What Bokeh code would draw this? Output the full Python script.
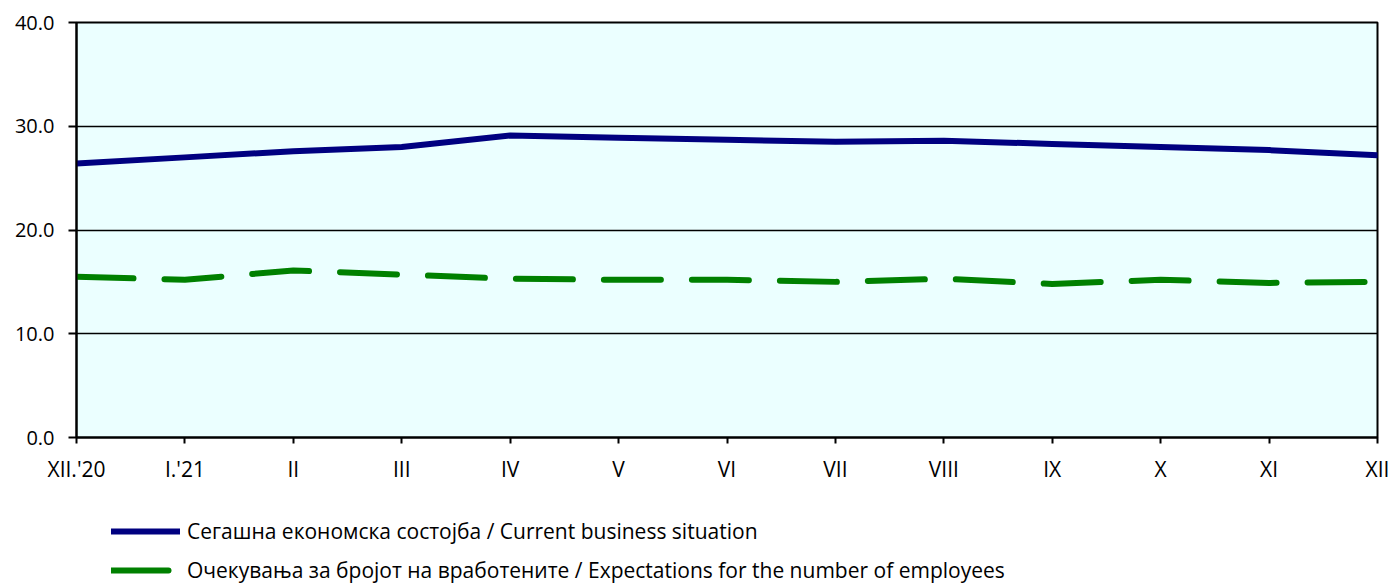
from bokeh.plotting import figure
from bokeh.layouts import column
from bokeh.models import ColumnDataSource, FixedTicker, Legend, LegendItem, NumeralTickFormatter, Range1d
from bokeh.embed import file_html
from bokeh.resources import INLINE

categories = ["XII.'20", "I.'21", "II", "III", "IV", "V", "VI", "VII", "VIII", "IX", "X", "XI", "XII"]
current_situation = [26.4, 27.0, 27.6, 28.0, 29.1, 28.9, 28.7, 28.5, 28.6, 28.3, 28.0, 27.7, 27.2]
employment_expectations = [15.5, 15.2, 16.1, 15.7, 15.3, 15.2, 15.2, 15.0, 15.3, 14.8, 15.2, 14.9, 15.0]
series_names = ["Сегашна економска состојба / Current business situation",
                "Очекувања за бројот на вработените / Expectations for the number of employees"]
y_ticks = [0, 10, 20, 30, 40]

FONT = "Open Sans"
BLUE = "#000080"
GREEN = "#008000"
x_idx = list(range(len(categories)))
src = ColumnDataSource(dict(x=x_idx, cur=current_situation, exp=employment_expectations))

cur_style = dict(line_color=BLUE, line_width=6, line_join="round", line_cap="round")
exp_style = dict(line_color=GREEN, line_width=6, line_dash="57 31", line_cap="round", line_join="round")

# ---- main chart ----
p = figure(width=1392, height=490, output_backend="svg", toolbar_location=None,
           x_range=Range1d(0, len(categories) - 1), y_range=Range1d(0, 40),
           min_border_left=76, min_border_top=22, min_border_right=15, min_border_bottom=53)
p.background_fill_color = "#EBFFFF"
p.border_fill_color = "white"
p.outline_line_color = "black"
p.outline_line_width = 2

p.line("x", "cur", source=src, **cur_style)
p.line("x", "exp", source=src, **exp_style)

p.xaxis.ticker = FixedTicker(ticks=x_idx)
p.xaxis.major_label_overrides = {i: c for i, c in enumerate(categories)}
p.yaxis.ticker = FixedTicker(ticks=y_ticks)
p.yaxis.formatter = NumeralTickFormatter(format="0.0")

for ax in (p.xaxis[0], p.yaxis[0]):
    ax.axis_line_color = "black"
    ax.axis_line_width = 2
    ax.major_tick_line_color = "black"
    ax.major_tick_line_width = 2
    ax.major_tick_in = 0
    ax.minor_tick_line_color = None
    ax.major_label_text_font = FONT
    ax.major_label_text_font_size = "20px"
    ax.major_label_text_color = "black"
p.xaxis.major_label_text_font_size = "21px"
p.xaxis.major_tick_out = 6
p.yaxis.major_tick_out = 8
p.xaxis.major_label_standoff = 11
p.yaxis.major_label_standoff = 14

p.xgrid.grid_line_color = None
p.ygrid.grid_line_color = "black"
p.ygrid.grid_line_width = 1.5

# ---- legend strip below the chart (series drawn out of view, only legend visible) ----
lg = figure(width=1392, height=94, output_backend="svg", toolbar_location=None,
            x_range=Range1d(100, 101), y_range=Range1d(100, 101),
            x_axis_type=None, y_axis_type=None,
            min_border_left=0, min_border_right=0, min_border_top=0, min_border_bottom=0)
lg.outline_line_color = None
lg.background_fill_color = "white"
lg.border_fill_color = "white"
lg.xgrid.grid_line_color = None
lg.ygrid.grid_line_color = None
l1 = lg.line("x", "cur", source=src, **cur_style)
l2 = lg.line("x", "exp", source=src, **exp_style)

legend = Legend(items=[LegendItem(label=series_names[0], renderers=[l1]),
                       LegendItem(label=series_names[1], renderers=[l2])],
                location=(35, 0), orientation="vertical")
legend.background_fill_alpha = 0
legend.border_line_color = None
legend.padding = 0
legend.margin = 0
legend.spacing = 11
legend.glyph_width = 69
legend.glyph_height = 20
legend.label_height = 20
legend.label_standoff = 7
legend.label_text_font = FONT
legend.label_text_font_size = "21px"
legend.label_text_color = "black"
lg.add_layout(legend, "center")

open("out.html", "w").write(file_html(column(p, lg, spacing=0), INLINE))
